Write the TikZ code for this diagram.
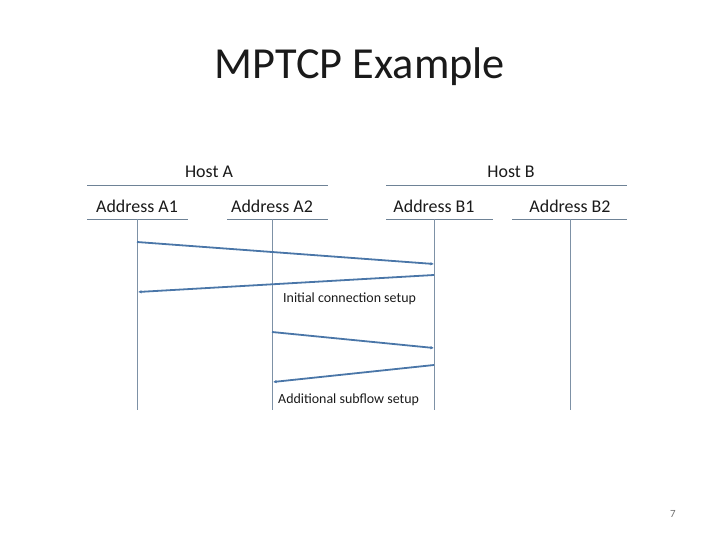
\documentclass[tikz,border=0pt]{standalone}
\usepackage{fontspec}
\setmainfont{Carlito}
\usetikzlibrary{arrows.meta,positioning,calc}
\definecolor{Ink}{HTML}{1A1A1A}
\definecolor{Rule}{HTML}{6E8296}
\definecolor{Life}{HTML}{7D91A6}
\definecolor{Msg}{HTML}{4A76A8}
\definecolor{Muted}{HTML}{707070}

\begin{document}
\begin{tikzpicture}[x=1bp,y=-1bp,
    title/.style={font=\fontsize{44.5}{48}\selectfont,text=Ink},
    hostlbl/.style={font=\fontsize{18}{20}\selectfont,text=Ink},
    addrlbl/.style={font=\fontsize{18}{20}\selectfont,text=Ink},
    note/.style={font=\fontsize{14}{16}\selectfont,text=Ink,anchor=west,inner sep=0pt},
    rule/.style={Rule,line width=0.9bp},
    lifeline/.style={Life,line width=0.8bp},
    msg/.style={Msg,line width=1.8bp,-{Latex[length=3.5bp,width=3.5bp]}}]
  \useasboundingbox (0,0) rectangle (720,540);
  \node[title] (ttl) at (360,67) {MPTCP Example};
  % hosts
  \node[hostlbl] (hostA) at (209,172) {Host A};
  \node[hostlbl] (hostB) at (511,172) {Host B};
  \draw[rule] (87,185) -- (328,185);
  \draw[rule] (386,185) -- (627,185);
  % addresses and lifelines
  \foreach \n/\x/\l/\r/\lab in {a1/137/87/188/Address A1,a2/272/227/328/Address A2,b1/434/386/493/Address B1,b2/570/512/627/Address B2}{
    \node[addrlbl] (\n) at (\x,206) {\lab};
    \draw[rule] (\l,219) -- (\r,219);
    \coordinate (\n top) at (\x,219);
    \coordinate (\n bot) at (\x,410);
    \draw[lifeline] (\n top) -- (\n bot);
  }
  % messages
  \coordinate (m1s) at (137,242);
  \coordinate (m1e) at (434,264);
  \coordinate (m2s) at (434,275);
  \coordinate (m2e) at (138,292);
  \coordinate (m3s) at (272,332);
  \coordinate (m3e) at (434,348);
  \coordinate (m4s) at (434,365);
  \coordinate (m4e) at (273,382);
  \draw[msg] (m1s) -- (m1e);
  \draw[msg] (m2s) -- (m2e);
  \draw[msg] (m3s) -- (m3e);
  \draw[msg] (m4s) -- (m4e);
  \node[note] (init) at (283,299) {Initial connection setup};
  \node[note] (addl) at (278,400) {Additional subflow setup};
  \node[font=\fontsize{11}{13}\selectfont,text=Muted] (pg) at (673,514) {7};
\end{tikzpicture}
\end{document}
